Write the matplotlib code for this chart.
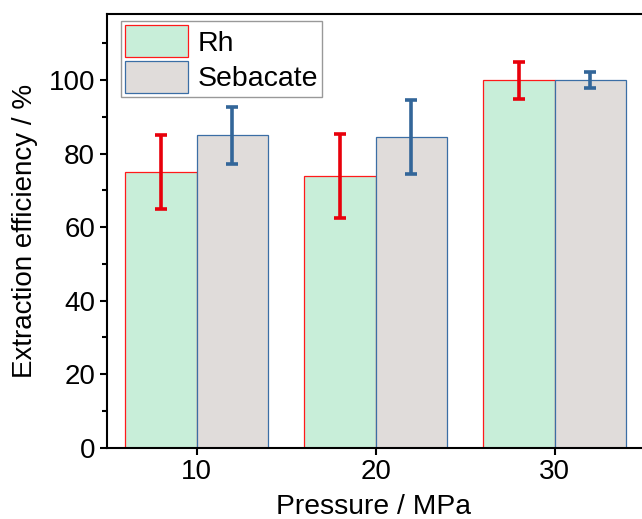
import numpy as np
import matplotlib
matplotlib.use('Agg')
from matplotlib import pyplot as plt

plt.rcParams['font.family'] = ['Liberation Sans', 'DejaVu Sans']

pressure = [10, 20, 30]
rh_mean = [75.0, 73.9, 100.0]
rh_err = [10.0, 11.5, 5.0]
seb_mean = [85.0, 84.6, 100.0]
seb_err = [7.8, 10.0, 2.1]

rh_face = '#c8eed9'
rh_edge = '#ff1a1a'
seb_face = '#e0dcda'
seb_edge = '#3b6ea5'

fig = plt.figure(figsize=(6.42, 5.19), dpi=100)
ax = fig.add_axes([0.1667, 0.1374, 0.831, 0.8356])

x = np.array(pressure, dtype=float)
w = 4
ax.bar(x - w / 2, rh_mean, width=w, color=rh_face, edgecolor=rh_edge, linewidth=0.9, label='Rh')
ax.bar(x + w / 2, seb_mean, width=w, color=seb_face, edgecolor=seb_edge, linewidth=0.9, label='Sebacate')
ax.errorbar(x - w / 2, rh_mean, yerr=rh_err, fmt='none', ecolor='#e8000b', elinewidth=2.6, capsize=4, capthick=2.6)
ax.errorbar(x + w / 2, seb_mean, yerr=seb_err, fmt='none', ecolor='#336699', elinewidth=2.6, capsize=4, capthick=2.6)

ax.set_xlim(5, 34.8)
ax.set_ylim(0, 118)
ax.set_xticks(pressure)
ax.set_yticks([0, 20, 40, 60, 80, 100])
ax.set_yticks([10, 30, 50, 70, 90, 110], minor=True)

for s in ['left', 'bottom', 'top']:
    ax.spines[s].set_linewidth(1.5)
ax.spines['right'].set_visible(False)
ax.tick_params(axis='both', which='major', labelsize=20, width=1.5, length=5, direction='out')
ax.tick_params(axis='y', which='minor', width=1.5, length=3.5, direction='out')

ax.set_xlabel('Pressure / MPa', fontsize=20.3, labelpad=6)
ax.set_ylabel('Extraction efficiency / %', fontsize=20, labelpad=8)

leg = ax.legend(loc='upper left', bbox_to_anchor=(0.026, 0.984), fontsize=20.5, frameon=True, fancybox=False,
                handlelength=2.2, handleheight=1.35, labelspacing=0.12,
                handletextpad=0.34, borderpad=0.15, borderaxespad=0)
leg.get_frame().set_edgecolor('#808080')
leg.get_frame().set_linewidth(1.0)

fig.savefig('out.png', dpi=100)
